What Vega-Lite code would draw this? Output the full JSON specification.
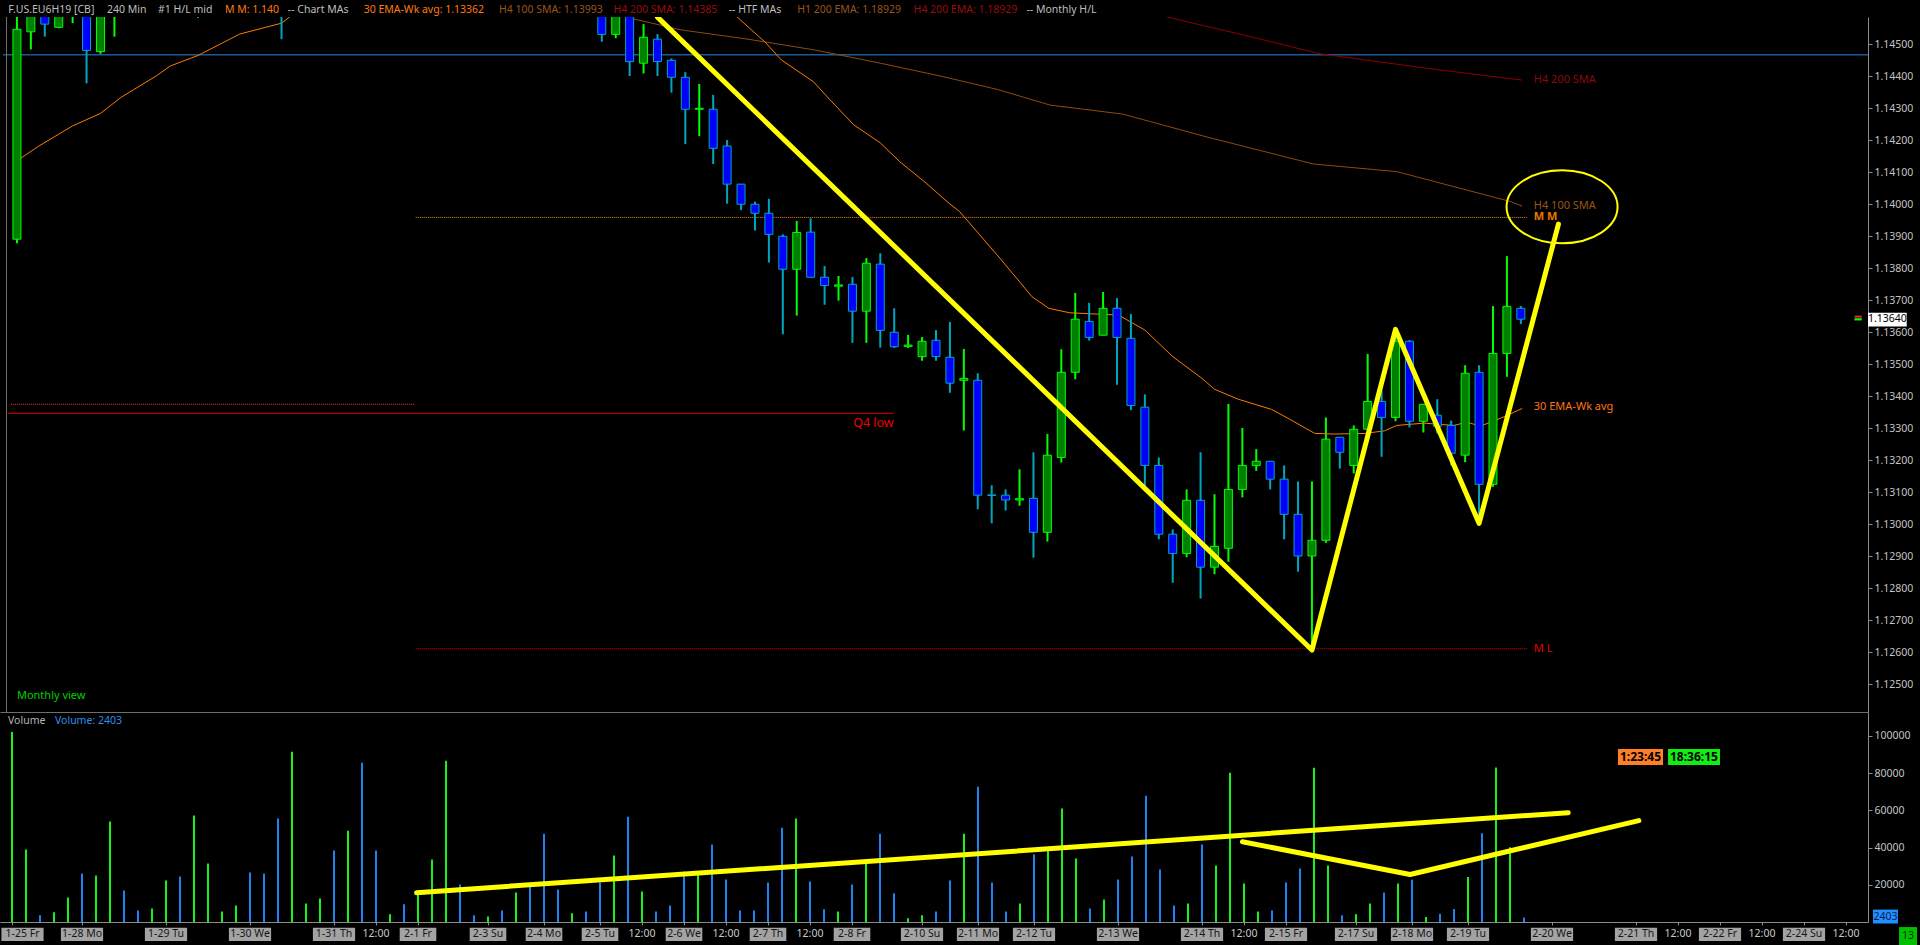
{
"$schema":"https://vega.github.io/schema/vega-lite/v6.json",
"background":"#000000",
"padding":0,
"spacing":0,
"bounds":"flush",
"config":{"view":{"stroke":null},"font":"Noto Sans","axis":{"labelFont":"Noto Sans","labelFontSize":10.5,"labelColor":"#C4C4C4","tickColor":"#8C8C8C","domainColor":"#8C8C8C","tickSize":4,"labelPadding":2,"grid":false}},
"resolve":{"scale":{"color":"independent","fill":"independent"}},
"datasets":{
"hdr":[{"t":"F.US.EU6H19 [CB]","i":-0.264,"k":"g"},{"t":"240 Min","i":6.786,"k":"g"},{"t":"#1 H/L mid","i":10.43,"k":"g"},{"t":"M M: 1.140","i":15.21,"k":"o"},{"t":"-- Chart MAs","i":19.7,"k":"g"},{"t":"30 EMA-Wk avg: 1.13362","i":25.12,"k":"o"},{"t":"H4 100 SMA: 1.13993","i":34.79,"k":"b"},{"t":"H4 200 SMA: 1.14385","i":42.97,"k":"r"},{"t":"-- HTF MAs","i":51.19,"k":"g"},{"t":"H1 200 EMA: 1.18929","i":56.09,"k":"b"},{"t":"H4 200 EMA: 1.18929","i":64.4,"k":"r"},{"t":"-- Monthly H/L","i":72.46,"k":"g"}],
"bars":[
{"i":0,"o":1.13891,"h":1.1462,"l":1.13878,"c":1.14547,"v":102200,"d":"up"},
{"i":1,"o":1.14539,"h":1.1465,"l":1.14484,"c":1.1461,"v":39000,"d":"up"},
{"i":2,"o":1.1464,"h":1.1466,"l":1.14524,"c":1.14563,"v":3600,"d":"down"},
{"i":3,"o":1.14553,"h":1.1465,"l":1.1455,"c":1.1462,"v":5200,"d":"up"},
{"i":4,"o":1.146,"h":1.1466,"l":1.14566,"c":1.1463,"v":13200,"d":"up"},
{"i":5,"o":1.1466,"h":1.1469,"l":1.14378,"c":1.14481,"v":26100,"d":"down"},
{"i":6,"o":1.14477,"h":1.147,"l":1.1447,"c":1.1465,"v":25000,"d":"up"},
{"i":7,"o":1.1462,"h":1.147,"l":1.14524,"c":1.1466,"v":54000,"d":"up"},
{"i":8,"o":1.1468,"h":1.1472,"l":1.146,"c":1.1463,"v":17000,"d":"down"},
{"i":9,"o":1.1464,"h":1.1469,"l":1.1461,"c":1.1462,"v":6250,"d":"down"},
{"i":10,"o":1.1462,"h":1.147,"l":1.146,"c":1.1468,"v":7300,"d":"up"},
{"i":11,"o":1.1468,"h":1.1478,"l":1.1466,"c":1.1476,"v":22300,"d":"up"},
{"i":12,"o":1.1476,"h":1.1479,"l":1.1468,"c":1.147,"v":24500,"d":"down"},
{"i":13,"o":1.147,"h":1.1487,"l":1.14583,"c":1.1485,"v":57200,"d":"up"},
{"i":14,"o":1.1485,"h":1.1496,"l":1.1482,"c":1.1493,"v":31450,"d":"up"},
{"i":15,"o":1.1493,"h":1.1497,"l":1.149,"c":1.1495,"v":5700,"d":"up"},
{"i":16,"o":1.1495,"h":1.1501,"l":1.1492,"c":1.1499,"v":8900,"d":"up"},
{"i":17,"o":1.1499,"h":1.1502,"l":1.1488,"c":1.149,"v":26600,"d":"down"},
{"i":18,"o":1.149,"h":1.1493,"l":1.1479,"c":1.1481,"v":26100,"d":"down"},
{"i":19,"o":1.1481,"h":1.1485,"l":1.14516,"c":1.1462,"v":55600,"d":"down"},
{"i":20,"o":1.1462,"h":1.1508,"l":1.146,"c":1.1504,"v":91500,"d":"up"},
{"i":21,"o":1.1504,"h":1.1511,"l":1.15,"c":1.1508,"v":10000,"d":"up"},
{"i":22,"o":1.1508,"h":1.1515,"l":1.1505,"c":1.1512,"v":12700,"d":"up"},
{"i":23,"o":1.1512,"h":1.1516,"l":1.15,"c":1.1503,"v":38400,"d":"down"},
{"i":24,"o":1.1503,"h":1.152,"l":1.1501,"c":1.1518,"v":49100,"d":"up"},
{"i":25,"o":1.1518,"h":1.1528,"l":1.149,"c":1.1496,"v":85600,"d":"down"},
{"i":26,"o":1.1496,"h":1.15,"l":1.1483,"c":1.1486,"v":38400,"d":"down"},
{"i":27,"o":1.1486,"h":1.149,"l":1.1484,"c":1.1488,"v":4100,"d":"up"},
{"i":28,"o":1.1488,"h":1.149,"l":1.1483,"c":1.1485,"v":9500,"d":"down"},
{"i":29,"o":1.1485,"h":1.1493,"l":1.1482,"c":1.1491,"v":16400,"d":"up"},
{"i":30,"o":1.1491,"h":1.1502,"l":1.1489,"c":1.15,"v":33600,"d":"up"},
{"i":31,"o":1.15,"h":1.153,"l":1.1496,"c":1.1525,"v":86700,"d":"up"},
{"i":32,"o":1.1525,"h":1.1527,"l":1.1515,"c":1.1517,"v":20200,"d":"down"},
{"i":33,"o":1.1517,"h":1.1519,"l":1.1514,"c":1.1515,"v":3600,"d":"down"},
{"i":34,"o":1.1515,"h":1.1518,"l":1.1513,"c":1.1517,"v":3000,"d":"up"},
{"i":35,"o":1.1517,"h":1.1519,"l":1.1513,"c":1.1514,"v":6250,"d":"down"},
{"i":36,"o":1.1514,"h":1.1522,"l":1.1511,"c":1.152,"v":15900,"d":"up"},
{"i":37,"o":1.152,"h":1.1523,"l":1.1508,"c":1.151,"v":20700,"d":"down"},
{"i":38,"o":1.151,"h":1.1512,"l":1.148,"c":1.1484,"v":47500,"d":"down"},
{"i":39,"o":1.1484,"h":1.1488,"l":1.147,"c":1.1473,"v":17500,"d":"down"},
{"i":40,"o":1.1473,"h":1.1478,"l":1.1471,"c":1.1476,"v":4650,"d":"up"},
{"i":41,"o":1.1476,"h":1.1479,"l":1.1466,"c":1.1469,"v":5700,"d":"down"},
{"i":42,"o":1.1469,"h":1.1472,"l":1.14508,"c":1.14531,"v":21300,"d":"down"},
{"i":43,"o":1.14531,"h":1.1465,"l":1.14519,"c":1.1462,"v":35700,"d":"up"},
{"i":44,"o":1.1462,"h":1.1464,"l":1.14401,"c":1.14446,"v":56600,"d":"down"},
{"i":45,"o":1.14441,"h":1.14563,"l":1.14409,"c":1.14522,"v":16400,"d":"up"},
{"i":46,"o":1.14516,"h":1.14532,"l":1.14401,"c":1.14446,"v":5700,"d":"down"},
{"i":47,"o":1.1445,"h":1.14456,"l":1.14349,"c":1.14397,"v":8900,"d":"down"},
{"i":48,"o":1.14397,"h":1.14413,"l":1.14188,"c":1.14297,"v":27200,"d":"down"},
{"i":49,"o":1.14297,"h":1.14376,"l":1.14213,"c":1.143,"v":26600,"d":"up"},
{"i":50,"o":1.14297,"h":1.14342,"l":1.14126,"c":1.14175,"v":41600,"d":"down"},
{"i":51,"o":1.14182,"h":1.14201,"l":1.14002,"c":1.14063,"v":22900,"d":"down"},
{"i":52,"o":1.14063,"h":1.14063,"l":1.13982,"c":1.14,"v":6250,"d":"down"},
{"i":53,"o":1.14,"h":1.14008,"l":1.13918,"c":1.13972,"v":6250,"d":"down"},
{"i":54,"o":1.13972,"h":1.14017,"l":1.13818,"c":1.13906,"v":21300,"d":"down"},
{"i":55,"o":1.139,"h":1.13906,"l":1.13594,"c":1.13797,"v":50700,"d":"down"},
{"i":56,"o":1.13797,"h":1.13948,"l":1.13652,"c":1.13912,"v":55600,"d":"up"},
{"i":57,"o":1.13913,"h":1.13956,"l":1.13772,"c":1.13772,"v":21800,"d":"down"},
{"i":58,"o":1.13772,"h":1.13807,"l":1.13686,"c":1.13746,"v":6800,"d":"down"},
{"i":59,"o":1.13744,"h":1.13776,"l":1.13699,"c":1.13748,"v":5700,"d":"up"},
{"i":60,"o":1.1375,"h":1.13773,"l":1.13567,"c":1.13666,"v":20200,"d":"down"},
{"i":61,"o":1.13666,"h":1.13832,"l":1.13567,"c":1.13816,"v":32500,"d":"up"},
{"i":62,"o":1.13813,"h":1.13847,"l":1.13552,"c":1.13606,"v":47500,"d":"down"},
{"i":63,"o":1.136,"h":1.13675,"l":1.13551,"c":1.13555,"v":15400,"d":"down"},
{"i":64,"o":1.13556,"h":1.13592,"l":1.13551,"c":1.1356,"v":2000,"d":"up"},
{"i":65,"o":1.13524,"h":1.13585,"l":1.13511,"c":1.13572,"v":3600,"d":"up"},
{"i":66,"o":1.13575,"h":1.13607,"l":1.13511,"c":1.13524,"v":5700,"d":"down"},
{"i":67,"o":1.13522,"h":1.13632,"l":1.13411,"c":1.13441,"v":22300,"d":"down"},
{"i":68,"o":1.1345,"h":1.13548,"l":1.13293,"c":1.13456,"v":47500,"d":"up"},
{"i":69,"o":1.1345,"h":1.13472,"l":1.13047,"c":1.13091,"v":72700,"d":"down"},
{"i":70,"o":1.13092,"h":1.13122,"l":1.13003,"c":1.1309,"v":21300,"d":"down"},
{"i":71,"o":1.13091,"h":1.13109,"l":1.13043,"c":1.13076,"v":5700,"d":"down"},
{"i":72,"o":1.13076,"h":1.13172,"l":1.13058,"c":1.1308,"v":10000,"d":"up"},
{"i":73,"o":1.13081,"h":1.13225,"l":1.12896,"c":1.12975,"v":36300,"d":"down"},
{"i":74,"o":1.12975,"h":1.13282,"l":1.12946,"c":1.13216,"v":40000,"d":"up"},
{"i":75,"o":1.13209,"h":1.13547,"l":1.13193,"c":1.13475,"v":61000,"d":"up"},
{"i":76,"o":1.13475,"h":1.13723,"l":1.13453,"c":1.13641,"v":34100,"d":"up"},
{"i":77,"o":1.13634,"h":1.13692,"l":1.13574,"c":1.13584,"v":7300,"d":"down"},
{"i":78,"o":1.13591,"h":1.13726,"l":1.13591,"c":1.13675,"v":12150,"d":"up"},
{"i":79,"o":1.13675,"h":1.13707,"l":1.13436,"c":1.13584,"v":22900,"d":"down"},
{"i":80,"o":1.13581,"h":1.13657,"l":1.13357,"c":1.13371,"v":35200,"d":"down"},
{"i":81,"o":1.13366,"h":1.13406,"l":1.13117,"c":1.13184,"v":67900,"d":"down"},
{"i":82,"o":1.13184,"h":1.13209,"l":1.12953,"c":1.12969,"v":28200,"d":"down"},
{"i":83,"o":1.12969,"h":1.12984,"l":1.12817,"c":1.12909,"v":8900,"d":"down"},
{"i":84,"o":1.12909,"h":1.13109,"l":1.12897,"c":1.13075,"v":10000,"d":"up"},
{"i":85,"o":1.13075,"h":1.13225,"l":1.12768,"c":1.12866,"v":41600,"d":"down"},
{"i":86,"o":1.12866,"h":1.13094,"l":1.12844,"c":1.12931,"v":30400,"d":"up"},
{"i":87,"o":1.12925,"h":1.13376,"l":1.12883,"c":1.13109,"v":80200,"d":"up"},
{"i":88,"o":1.13109,"h":1.13301,"l":1.13084,"c":1.13184,"v":20700,"d":"up"},
{"i":89,"o":1.13184,"h":1.13235,"l":1.13167,"c":1.13197,"v":5700,"d":"up"},
{"i":90,"o":1.13197,"h":1.13197,"l":1.13109,"c":1.13141,"v":6250,"d":"down"},
{"i":91,"o":1.13141,"h":1.13184,"l":1.12953,"c":1.13031,"v":21300,"d":"down"},
{"i":92,"o":1.13031,"h":1.13134,"l":1.12852,"c":1.12901,"v":28800,"d":"down"},
{"i":93,"o":1.12901,"h":1.13134,"l":1.12607,"c":1.1295,"v":82900,"d":"up"},
{"i":94,"o":1.1295,"h":1.13334,"l":1.12942,"c":1.13266,"v":30400,"d":"up"},
{"i":95,"o":1.13272,"h":1.13272,"l":1.13174,"c":1.13225,"v":3600,"d":"down"},
{"i":96,"o":1.13184,"h":1.13309,"l":1.13159,"c":1.13297,"v":4100,"d":"up"},
{"i":97,"o":1.13297,"h":1.13532,"l":1.13287,"c":1.13384,"v":10000,"d":"up"},
{"i":98,"o":1.13384,"h":1.13422,"l":1.13211,"c":1.13334,"v":15900,"d":"down"},
{"i":99,"o":1.13334,"h":1.13609,"l":1.13322,"c":1.13572,"v":20700,"d":"up"},
{"i":100,"o":1.13572,"h":1.13576,"l":1.13303,"c":1.13322,"v":22700,"d":"down"},
{"i":101,"o":1.13322,"h":1.13375,"l":1.13287,"c":1.13375,"v":2700,"d":"up"},
{"i":102,"o":1.13341,"h":1.13391,"l":1.13284,"c":1.13306,"v":4450,"d":"down"},
{"i":103,"o":1.13309,"h":1.13324,"l":1.13184,"c":1.13222,"v":7000,"d":"down"},
{"i":104,"o":1.13216,"h":1.13497,"l":1.13194,"c":1.13472,"v":24200,"d":"up"},
{"i":105,"o":1.13475,"h":1.13497,"l":1.13003,"c":1.13125,"v":47700,"d":"down"},
{"i":106,"o":1.13125,"h":1.13682,"l":1.13117,"c":1.13534,"v":83100,"d":"up"},
{"i":107,"o":1.13534,"h":1.13838,"l":1.13461,"c":1.13681,"v":40200,"d":"up"},
{"i":108,"o":1.13675,"h":1.13682,"l":1.13626,"c":1.13641,"v":2403,"d":"down"}
],
"ma":[
{"s":"ema","i":0,"p":1.14136},{"s":"ema","i":1.5,"p":1.1418},{"s":"ema","i":4,"p":1.14245},{"s":"ema","i":6,"p":1.14284},{"s":"ema","i":7.5,"p":1.14335},{"s":"ema","i":10,"p":1.14401},{"s":"ema","i":11,"p":1.14432},{"s":"ema","i":13,"p":1.14465},{"s":"ema","i":16,"p":1.14532},{"s":"ema","i":19,"p":1.14566},{"s":"ema","i":19.6,"p":1.14586},{"s":"ema","i":21,"p":1.1463},{"s":"ema","i":50,"p":1.1465},{"s":"ema","i":51.7,"p":1.14586},{"s":"ema","i":53.7,"p":1.14508},{"s":"ema","i":54.9,"p":1.14451},{"s":"ema","i":57.2,"p":1.14383},{"s":"ema","i":58.4,"p":1.14326},{"s":"ema","i":60.1,"p":1.14248},{"s":"ema","i":62,"p":1.14192},{"s":"ema","i":63.4,"p":1.14133},{"s":"ema","i":65.3,"p":1.14066},{"s":"ema","i":66.8,"p":1.14008},{"s":"ema","i":67.7,"p":1.13977},{"s":"ema","i":70.7,"p":1.13826},{"s":"ema","i":71.5,"p":1.13784},{"s":"ema","i":72.9,"p":1.13711},{"s":"ema","i":74.1,"p":1.13675},{"s":"ema","i":75.6,"p":1.13661},{"s":"ema","i":77.5,"p":1.13657},{"s":"ema","i":79.1,"p":1.13654},{"s":"ema","i":81,"p":1.13607},{"s":"ema","i":83,"p":1.13524},{"s":"ema","i":85.1,"p":1.13456},{"s":"ema","i":86,"p":1.13422},{"s":"ema","i":87.7,"p":1.13391},{"s":"ema","i":90.1,"p":1.13359},{"s":"ema","i":91.5,"p":1.13326},{"s":"ema","i":93.2,"p":1.13284},{"s":"ema","i":94.6,"p":1.13282},{"s":"ema","i":96.8,"p":1.13284},{"s":"ema","i":98.2,"p":1.13292},{"s":"ema","i":99.1,"p":1.13309},{"s":"ema","i":101.05,"p":1.13316},{"s":"ema","i":103.2,"p":1.13309},{"s":"ema","i":104.1,"p":1.13319},{"s":"ema","i":105.1,"p":1.13307},{"s":"ema","i":106.8,"p":1.13336},{"s":"ema","i":108.1,"p":1.13362},
{"s":"sma100","i":42,"p":1.1461},{"s":"sma100","i":44.1,"p":1.14581},{"s":"sma100","i":47.7,"p":1.14545},{"s":"sma100","i":52.5,"p":1.14516},{"s":"sma100","i":57.2,"p":1.14483},{"s":"sma100","i":62,"p":1.14441},{"s":"sma100","i":66.3,"p":1.14401},{"s":"sma100","i":70.4,"p":1.14359},{"s":"sma100","i":74.2,"p":1.1431},{"s":"sma100","i":79.4,"p":1.14282},{"s":"sma100","i":85.4,"p":1.14211},{"s":"sma100","i":93.1,"p":1.14126},{"s":"sma100","i":99.1,"p":1.14102},{"s":"sma100","i":100.5,"p":1.14086},{"s":"sma100","i":107.3,"p":1.14008},{"s":"sma100","i":108.1,"p":1.13994},
{"s":"sma200","i":81,"p":1.1461},{"s":"sma200","i":82.7,"p":1.14584},{"s":"sma200","i":88.1,"p":1.14529},{"s":"sma200","i":93.6,"p":1.1447},{"s":"sma200","i":101.8,"p":1.14422},{"s":"sma200","i":108.1,"p":1.14388}
],
"levels":[{"n":"blue","x1":-1,"x2":134,"p":1.14467},{"n":"jan","x1":-0.43,"x2":28.54,"p":1.13375},{"n":"q4","x1":-0.64,"x2":62.96,"p":1.13347},{"n":"mm","x1":28.64,"x2":108.43,"p":1.13959},{"n":"ml","x1":28.64,"x2":108.43,"p":1.12611}],
"ptrend":[{"i":46,"p":1.14585},{"i":93,"p":1.12607},{"i":99,"p":1.13609},{"i":105,"p":1.13003},{"i":110.7,"p":1.13938}],
"ell":[{"i":110.96,"p":1.13992}],
"plabels":[{"t":"H4 200 SMA","i":108.93,"p":1.14389},{"t":"H4 100 SMA","i":108.93,"p":1.13996},{"t":"30 EMA-Wk avg","i":108.93,"p":1.13365},{"t":"M L","i":108.93,"p":1.12611},{"t":"Monthly view","i":0,"p":1.12463}],
"mmlabel":[{"t":"M M","i":108.93,"p":1.13959}],
"q4label":[{"t":"Q4 low","i":62.96,"p":1.13318}],
"pbox":[{"x1":132.93,"x2":135.71,"p1":1.13661,"p2":1.13618,"t":"1.13640","xm":134.32,"pm":1.1364}],
"pticks":[{"k":"r","x1":131.96,"x2":132.48,"p1":1.13652,"p2":1.13646},{"k":"g","x1":131.96,"x2":132.48,"p1":1.13644,"p2":1.13637}],
"vtrend":[{"seg":"a","i":28.9,"v":15750},{"seg":"a","i":111.16,"v":58800},{"seg":"b","i":87.89,"v":43170},{"seg":"b","i":99.86,"v":25540},{"seg":"b","i":116.2,"v":54500}],
"vtext":[{"t":"Volume","i":-0.286,"v":108060},{"t":"Volume: 2403","i":3.07,"v":108060}],
"timer":[{"k":"o","x1":114.71,"x2":117.93,"v1":84410,"v2":93010,"t":"1:23:45","xm":116.32,"vm":88710},{"k":"g","x1":118.29,"x2":122.0,"v1":84410,"v2":93010,"t":"18:36:15","xm":120.14,"vm":88710},{"k":"b","x1":132.93,"x2":134.71,"v1":-800,"v2":6670,"t":"2403","xm":133.82,"vm":2935}],
"tl":[{"t":"1-25 Fr","i":0.75,"k":"day"},{"t":"1-28 Mo","i":5,"k":"day"},{"t":"1-29 Tu","i":11,"k":"day"},{"t":"1-30 We","i":17,"k":"day"},{"t":"1-31 Th","i":23,"k":"day"},{"t":"12:00","i":26,"k":"time"},{"t":"2-1 Fr","i":29,"k":"day"},{"t":"2-3 Su","i":34,"k":"day"},{"t":"2-4 Mo","i":38,"k":"day"},{"t":"2-5 Tu","i":42,"k":"day"},{"t":"12:00","i":45,"k":"time"},{"t":"2-6 We","i":48,"k":"day"},{"t":"12:00","i":51,"k":"time"},{"t":"2-7 Th","i":54,"k":"day"},{"t":"12:00","i":57,"k":"time"},{"t":"2-8 Fr","i":60,"k":"day"},{"t":"2-10 Su","i":65,"k":"day"},{"t":"2-11 Mo","i":69,"k":"day"},{"t":"2-12 Tu","i":73,"k":"day"},{"t":"2-13 We","i":79,"k":"day"},{"t":"2-14 Th","i":85,"k":"day"},{"t":"12:00","i":88,"k":"time"},{"t":"2-15 Fr","i":91,"k":"day"},{"t":"2-17 Su","i":96,"k":"day"},{"t":"2-18 Mo","i":100,"k":"day"},{"t":"2-19 Tu","i":104,"k":"day"},{"t":"2-20 We","i":110,"k":"day"},{"t":"2-21 Th","i":116,"k":"day"},{"t":"12:00","i":119,"k":"time"},{"t":"2-22 Fr","i":122,"k":"day"},{"t":"12:00","i":125,"k":"time"},{"t":"2-24 Su","i":128,"k":"day"},{"t":"12:00","i":131,"k":"time"}],
"corner":[{"t":"13","x1":134.79,"x2":136.07,"xm":135.43}]
},
"vconcat":[
{"width":1920,"height":17,
 "data":{"name":"hdr"},
 "mark":{"type":"text","align":"left","baseline":"middle","fontSize":10.5,"font":"Noto Sans"},
 "encoding":{
  "x":{"field":"i","type":"quantitative","scale":{"domain":[-0.857143,136.285714],"nice":false,"zero":false},"axis":null},
  "y":{"datum":0.41,"type":"quantitative","scale":{"domain":[0,1],"nice":false,"zero":false},"axis":null},
  "text":{"field":"t"},
  "color":{"field":"k","type":"nominal","scale":{"domain":["g","o","b","r"],"range":["#BEBEBE","#FF7A10","#9A5418","#990C0C"]},"legend":null}
 }
},
{"width":1868,"height":695,
 "encoding":{
  "x":{"field":"i","type":"quantitative","scale":{"domain":[-0.857143,132.571429],"nice":false,"zero":false},"axis":{"orient":"bottom","labels":false,"ticks":false,"domain":true,"domainColor":"#6E6E6E","title":null,"grid":false}},
  "y":{"field":"p","type":"quantitative","scale":{"domain":[1.124134,1.145853],"nice":false,"zero":false},"axis":{"orient":"right","values":[1.125,1.126,1.127,1.128,1.129,1.13,1.131,1.132,1.133,1.134,1.135,1.136,1.137,1.138,1.139,1.14,1.141,1.142,1.143,1.144,1.145],"format":".5f","title":null,"grid":false}}
 },
 "layer":[
  {"data":{"name":"bars"},"transform":[{"filter":"datum.d==='up'"}],
   "mark":{"type":"rule","color":"#00FF00","strokeWidth":2,"clip":true},
   "encoding":{"y":{"field":"l","type":"quantitative","scale":{"domain":[1.124134,1.145853],"nice":false,"zero":false},"axis":{"orient":"right","values":[1.125,1.126,1.127,1.128,1.129,1.13,1.131,1.132,1.133,1.134,1.135,1.136,1.137,1.138,1.139,1.14,1.141,1.142,1.143,1.144,1.145],"format":".5f","title":null,"grid":false}},"y2":{"field":"h"}}},
  {"data":{"name":"levels"},"transform":[{"filter":"datum.n==='blue'"}],
   "mark":{"type":"rule","color":"#2B87E0","strokeWidth":1,"clip":true},
   "encoding":{"x":{"field":"x1","type":"quantitative","scale":{"domain":[-0.857143,132.571429],"nice":false,"zero":false},"axis":{"orient":"bottom","labels":false,"ticks":false,"domain":true,"domainColor":"#6E6E6E","title":null,"grid":false}},"x2":{"field":"x2"}}},
  {"data":{"name":"levels"},"transform":[{"filter":"datum.n==='jan'"}],
   "mark":{"type":"rule","color":"#FF2B2B","strokeWidth":1,"strokeDash":[1,1],"clip":true},
   "encoding":{"x":{"field":"x1","type":"quantitative","scale":{"domain":[-0.857143,132.571429],"nice":false,"zero":false},"axis":{"orient":"bottom","labels":false,"ticks":false,"domain":true,"domainColor":"#6E6E6E","title":null,"grid":false}},"x2":{"field":"x2"}}},
  {"data":{"name":"levels"},"transform":[{"filter":"datum.n==='q4'"}],
   "mark":{"type":"rule","color":"#E00000","strokeWidth":1,"clip":true},
   "encoding":{"x":{"field":"x1","type":"quantitative","scale":{"domain":[-0.857143,132.571429],"nice":false,"zero":false},"axis":{"orient":"bottom","labels":false,"ticks":false,"domain":true,"domainColor":"#6E6E6E","title":null,"grid":false}},"x2":{"field":"x2"}}},
  {"data":{"name":"levels"},"transform":[{"filter":"datum.n==='mm'"}],
   "mark":{"type":"rule","color":"#FF8C00","strokeWidth":1,"strokeDash":[1,1],"clip":true},
   "encoding":{"x":{"field":"x1","type":"quantitative","scale":{"domain":[-0.857143,132.571429],"nice":false,"zero":false},"axis":{"orient":"bottom","labels":false,"ticks":false,"domain":true,"domainColor":"#6E6E6E","title":null,"grid":false}},"x2":{"field":"x2"}}},
  {"data":{"name":"levels"},"transform":[{"filter":"datum.n==='ml'"}],
   "mark":{"type":"rule","color":"#FF0000","strokeWidth":1,"strokeDash":[1,1],"clip":true},
   "encoding":{"x":{"field":"x1","type":"quantitative","scale":{"domain":[-0.857143,132.571429],"nice":false,"zero":false},"axis":{"orient":"bottom","labels":false,"ticks":false,"domain":true,"domainColor":"#6E6E6E","title":null,"grid":false}},"x2":{"field":"x2"}}},
  {"data":{"name":"ell"},
   "mark":{"type":"rule","color":"#6E6E6E","strokeWidth":1,"clip":true},
   "encoding":{"x":{"datum":-0.75,"type":"quantitative","scale":{"domain":[-0.857143,132.571429],"nice":false,"zero":false},"axis":{"orient":"bottom","labels":false,"ticks":false,"domain":true,"domainColor":"#6E6E6E","title":null,"grid":false}},
    "y":{"datum":1.124134,"type":"quantitative","scale":{"domain":[1.124134,1.145853],"nice":false,"zero":false},"axis":{"orient":"right","values":[1.125,1.126,1.127,1.128,1.129,1.13,1.131,1.132,1.133,1.134,1.135,1.136,1.137,1.138,1.139,1.14,1.141,1.142,1.143,1.144,1.145],"format":".5f","title":null,"grid":false}},"y2":{"datum":1.145853}}},
  {"data":{"name":"ma"},"transform":[{"filter":"datum.s==='sma200'"}],
   "mark":{"type":"line","color":"#8B0000","strokeWidth":1,"clip":true}},
  {"data":{"name":"ma"},"transform":[{"filter":"datum.s==='sma100'"}],
   "mark":{"type":"line","color":"#8E4B10","strokeWidth":1,"clip":true}},
  {"data":{"name":"ma"},"transform":[{"filter":"datum.s==='ema'"}],
   "mark":{"type":"line","color":"#FF7A00","strokeWidth":1,"clip":true}},
  {"data":{"name":"bars"},"transform":[{"filter":"datum.d==='down'"}],
   "mark":{"type":"rule","color":"#00A5C0","strokeWidth":2,"clip":true},
   "encoding":{"y":{"field":"l","type":"quantitative","scale":{"domain":[1.124134,1.145853],"nice":false,"zero":false},"axis":{"orient":"right","values":[1.125,1.126,1.127,1.128,1.129,1.13,1.131,1.132,1.133,1.134,1.135,1.136,1.137,1.138,1.139,1.14,1.141,1.142,1.143,1.144,1.145],"format":".5f","title":null,"grid":false}},"y2":{"field":"h"}}},
  {"data":{"name":"bars"},"transform":[{"filter":"datum.d==='up'"}],
   "mark":{"type":"bar","width":8,"fill":"#008000","stroke":"#00FF00","strokeWidth":1,"clip":true},
   "encoding":{"y":{"field":"o","type":"quantitative","scale":{"domain":[1.124134,1.145853],"nice":false,"zero":false},"axis":{"orient":"right","values":[1.125,1.126,1.127,1.128,1.129,1.13,1.131,1.132,1.133,1.134,1.135,1.136,1.137,1.138,1.139,1.14,1.141,1.142,1.143,1.144,1.145],"format":".5f","title":null,"grid":false}},"y2":{"field":"c"}}},
  {"data":{"name":"bars"},"transform":[{"filter":"datum.d==='down'"}],
   "mark":{"type":"bar","width":8,"fill":"#0000FF","stroke":"#00A5C0","strokeWidth":1,"clip":true},
   "encoding":{"y":{"field":"o","type":"quantitative","scale":{"domain":[1.124134,1.145853],"nice":false,"zero":false},"axis":{"orient":"right","values":[1.125,1.126,1.127,1.128,1.129,1.13,1.131,1.132,1.133,1.134,1.135,1.136,1.137,1.138,1.139,1.14,1.141,1.142,1.143,1.144,1.145],"format":".5f","title":null,"grid":false}},"y2":{"field":"c"}}},
  {"data":{"name":"ptrend"},
   "mark":{"type":"line","color":"#FFFF00","strokeWidth":5,"strokeJoin":"round","strokeCap":"round","clip":true}},
  {"data":{"name":"ell"},
   "mark":{"type":"point","shape":"M 1 0 C 1 0.3634 0.5523 0.658 0 0.658 C -0.5523 0.658 -1 0.3634 -1 0 C -1 -0.3634 -0.5523 -0.658 0 -0.658 C 0.5523 -0.658 1 -0.3634 1 0 Z","size":12321,"filled":false,"stroke":"#FFFF00","strokeWidth":2,"opacity":1,"strokeOpacity":1}},
  {"data":{"name":"plabels"},
   "mark":{"type":"text","align":"left","baseline":"middle","fontSize":11,"font":"Noto Sans"},
   "encoding":{"text":{"field":"t"},
    "color":{"field":"t","type":"nominal","scale":{"domain":["H4 200 SMA","H4 100 SMA","30 EMA-Wk avg","M L","Monthly view"],"range":["#8B0A0A","#9A5418","#FF7410","#E00000","#00D000"]},"legend":null}}},
  {"data":{"name":"mmlabel"},
   "mark":{"type":"text","align":"left","baseline":"middle","fontSize":11,"fontWeight":"bold","font":"Noto Sans","color":"#E87800"},
   "encoding":{"text":{"field":"t"}}},
  {"data":{"name":"q4label"},
   "mark":{"type":"text","align":"right","baseline":"middle","fontSize":12.5,"font":"Noto Sans","color":"#F00000"},
   "encoding":{"text":{"field":"t"}}},
  {"data":{"name":"pbox"},
   "mark":{"type":"rect","fill":"#FFFFFF","clip":false},
   "encoding":{"x":{"field":"x1","type":"quantitative","scale":{"domain":[-0.857143,132.571429],"nice":false,"zero":false},"axis":{"orient":"bottom","labels":false,"ticks":false,"domain":true,"domainColor":"#6E6E6E","title":null,"grid":false}},"x2":{"field":"x2"},"y":{"field":"p1","type":"quantitative","scale":{"domain":[1.124134,1.145853],"nice":false,"zero":false},"axis":{"orient":"right","values":[1.125,1.126,1.127,1.128,1.129,1.13,1.131,1.132,1.133,1.134,1.135,1.136,1.137,1.138,1.139,1.14,1.141,1.142,1.143,1.144,1.145],"format":".5f","title":null,"grid":false}},"y2":{"field":"p2"}}},
  {"data":{"name":"pbox"},
   "mark":{"type":"text","align":"center","baseline":"middle","fontSize":10.5,"font":"Noto Sans","color":"#000000","clip":false},
   "encoding":{"x":{"field":"xm","type":"quantitative","scale":{"domain":[-0.857143,132.571429],"nice":false,"zero":false},"axis":{"orient":"bottom","labels":false,"ticks":false,"domain":true,"domainColor":"#6E6E6E","title":null,"grid":false}},"y":{"field":"pm","type":"quantitative","scale":{"domain":[1.124134,1.145853],"nice":false,"zero":false},"axis":{"orient":"right","values":[1.125,1.126,1.127,1.128,1.129,1.13,1.131,1.132,1.133,1.134,1.135,1.136,1.137,1.138,1.139,1.14,1.141,1.142,1.143,1.144,1.145],"format":".5f","title":null,"grid":false}},"text":{"field":"t"}}},
  {"data":{"name":"pticks"},"transform":[{"filter":"datum.k==='r'"}],
   "mark":{"type":"rect","fill":"#FF2020"},
   "encoding":{"x":{"field":"x1","type":"quantitative","scale":{"domain":[-0.857143,132.571429],"nice":false,"zero":false},"axis":{"orient":"bottom","labels":false,"ticks":false,"domain":true,"domainColor":"#6E6E6E","title":null,"grid":false}},"x2":{"field":"x2"},"y":{"field":"p1","type":"quantitative","scale":{"domain":[1.124134,1.145853],"nice":false,"zero":false},"axis":{"orient":"right","values":[1.125,1.126,1.127,1.128,1.129,1.13,1.131,1.132,1.133,1.134,1.135,1.136,1.137,1.138,1.139,1.14,1.141,1.142,1.143,1.144,1.145],"format":".5f","title":null,"grid":false}},"y2":{"field":"p2"}}},
  {"data":{"name":"pticks"},"transform":[{"filter":"datum.k==='g'"}],
   "mark":{"type":"rect","fill":"#00FF00"},
   "encoding":{"x":{"field":"x1","type":"quantitative","scale":{"domain":[-0.857143,132.571429],"nice":false,"zero":false},"axis":{"orient":"bottom","labels":false,"ticks":false,"domain":true,"domainColor":"#6E6E6E","title":null,"grid":false}},"x2":{"field":"x2"},"y":{"field":"p1","type":"quantitative","scale":{"domain":[1.124134,1.145853],"nice":false,"zero":false},"axis":{"orient":"right","values":[1.125,1.126,1.127,1.128,1.129,1.13,1.131,1.132,1.133,1.134,1.135,1.136,1.137,1.138,1.139,1.14,1.141,1.142,1.143,1.144,1.145],"format":".5f","title":null,"grid":false}},"y2":{"field":"p2"}}}
 ]
},
{"width":1868,"height":210,
 "encoding":{
  "x":{"field":"i","type":"quantitative","scale":{"domain":[-0.857143,132.571429],"nice":false,"zero":false},"axis":{"orient":"bottom","values":[0,5,11,17,23,26,29,34,38,42,45,48,51,54,57,60,65,69,73,79,85,88,91,96,100,104,110,116,119,122,125,128,131],"labels":false,"ticks":true,"tickSize":3,"domain":true,"title":null,"grid":false}},
  "y":{"field":"v","type":"quantitative","scale":{"domain":[0,112903],"nice":false,"zero":false},"axis":{"orient":"right","values":[20000,40000,60000,80000,100000],"format":"d","title":null,"grid":false}}
 },
 "layer":[
  {"data":{"name":"ell"},
   "mark":{"type":"rule","color":"#6E6E6E","strokeWidth":1,"clip":true},
   "encoding":{"x":{"datum":-0.75,"type":"quantitative","scale":{"domain":[-0.857143,132.571429],"nice":false,"zero":false},"axis":{"orient":"bottom","values":[0,5,11,17,23,26,29,34,38,42,45,48,51,54,57,60,65,69,73,79,85,88,91,96,100,104,110,116,119,122,125,128,131],"labels":false,"ticks":true,"tickSize":3,"domain":true,"title":null,"grid":false}},
    "y":{"datum":0,"type":"quantitative","scale":{"domain":[0,112903],"nice":false,"zero":false},"axis":{"orient":"right","values":[20000,40000,60000,80000,100000],"format":"d","title":null,"grid":false}},"y2":{"datum":112903}}},
  {"data":{"name":"bars"},"transform":[{"filter":"datum.d==='up'"}],
   "mark":{"type":"rule","color":"#1AF01A","strokeWidth":2},
   "encoding":{"y2":{"datum":0}}},
  {"data":{"name":"bars"},"transform":[{"filter":"datum.d==='down'"}],
   "mark":{"type":"rule","color":"#1C84F0","strokeWidth":2},
   "encoding":{"y2":{"datum":0}}},
  {"data":{"name":"vtrend"},
   "mark":{"type":"line","color":"#FFFF00","strokeWidth":5,"strokeJoin":"round","strokeCap":"round","clip":true},
   "encoding":{"detail":{"field":"seg"}}},
  {"data":{"name":"vtext"},"transform":[{"filter":"datum.t==='Volume'"}],
   "mark":{"type":"text","align":"left","baseline":"middle","fontSize":10.5,"font":"Noto Sans","color":"#B4B4B4"},
   "encoding":{"text":{"field":"t"}}},
  {"data":{"name":"vtext"},"transform":[{"filter":"datum.t!=='Volume'"}],
   "mark":{"type":"text","align":"left","baseline":"middle","fontSize":10.5,"font":"Noto Sans","color":"#2E8FE6"},
   "encoding":{"text":{"field":"t"}}},
  {"data":{"name":"timer"},
   "mark":{"type":"rect","clip":false},
   "encoding":{"x":{"field":"x1","type":"quantitative","scale":{"domain":[-0.857143,132.571429],"nice":false,"zero":false},"axis":{"orient":"bottom","values":[0,5,11,17,23,26,29,34,38,42,45,48,51,54,57,60,65,69,73,79,85,88,91,96,100,104,110,116,119,122,125,128,131],"labels":false,"ticks":true,"tickSize":3,"domain":true,"title":null,"grid":false}},"x2":{"field":"x2"},
    "y":{"field":"v1","type":"quantitative","scale":{"domain":[0,112903],"nice":false,"zero":false},"axis":{"orient":"right","values":[20000,40000,60000,80000,100000],"format":"d","title":null,"grid":false}},"y2":{"field":"v2"},
    "fill":{"field":"k","type":"nominal","scale":{"domain":["o","g","b"],"range":["#FF7F27","#11EE11","#1E90FF"]},"legend":null}}},
  {"data":{"name":"timer"},"transform":[{"filter":"datum.k!=='b'"}],
   "mark":{"type":"text","align":"center","baseline":"middle","fontSize":12,"fontWeight":"bold","font":"Noto Sans","color":"#000000"},
   "encoding":{"x":{"field":"xm","type":"quantitative","scale":{"domain":[-0.857143,132.571429],"nice":false,"zero":false},"axis":{"orient":"bottom","values":[0,5,11,17,23,26,29,34,38,42,45,48,51,54,57,60,65,69,73,79,85,88,91,96,100,104,110,116,119,122,125,128,131],"labels":false,"ticks":true,"tickSize":3,"domain":true,"title":null,"grid":false}},"y":{"field":"vm","type":"quantitative","scale":{"domain":[0,112903],"nice":false,"zero":false},"axis":{"orient":"right","values":[20000,40000,60000,80000,100000],"format":"d","title":null,"grid":false}},"text":{"field":"t"}}},
  {"data":{"name":"timer"},"transform":[{"filter":"datum.k==='b'"}],
   "mark":{"type":"text","align":"center","baseline":"middle","fontSize":10.5,"font":"Noto Sans","color":"#0A1A50","clip":false},
   "encoding":{"x":{"field":"xm","type":"quantitative","scale":{"domain":[-0.857143,132.571429],"nice":false,"zero":false},"axis":{"orient":"bottom","values":[0,5,11,17,23,26,29,34,38,42,45,48,51,54,57,60,65,69,73,79,85,88,91,96,100,104,110,116,119,122,125,128,131],"labels":false,"ticks":true,"tickSize":3,"domain":true,"title":null,"grid":false}},"y":{"field":"vm","type":"quantitative","scale":{"domain":[0,112903],"nice":false,"zero":false},"axis":{"orient":"right","values":[20000,40000,60000,80000,100000],"format":"d","title":null,"grid":false}},"text":{"field":"t"}}}
 ]
},
{"width":1920,"height":23,
 "layer":[
  {"data":{"name":"tl"},"transform":[{"filter":"datum.k==='day'"},{"calculate":"datum.i-(length(datum.t)*2.8+1.5)/14","as":"xa"},{"calculate":"datum.i+(length(datum.t)*2.8+1.5)/14","as":"xb"}],
   "mark":{"type":"rect","fill":"#A3A3A3","clip":true},
   "encoding":{"x":{"field":"xa","type":"quantitative","scale":{"domain":[-0.857143,136.285714],"nice":false,"zero":false},"axis":null},"x2":{"field":"xb"},
    "y":{"datum":0.752,"type":"quantitative","scale":{"domain":[0,1],"nice":false,"zero":false},"axis":null},"y2":{"datum":0.174}}},
  {"data":{"name":"tl"},
   "mark":{"type":"text","align":"center","baseline":"middle","fontSize":10.5,"font":"Noto Sans","clip":true},
   "encoding":{"x":{"field":"i","type":"quantitative","scale":{"domain":[-0.857143,136.285714],"nice":false,"zero":false},"axis":null},
    "y":{"datum":0.457,"type":"quantitative","scale":{"domain":[0,1],"nice":false,"zero":false},"axis":null},"text":{"field":"t"},
    "color":{"field":"k","type":"nominal","scale":{"domain":["day","time"],"range":["#161616","#C8C8C8"]},"legend":null}}},
  {"data":{"name":"corner"},
   "mark":{"type":"rect","fill":"#00C000","clip":true},
   "encoding":{"x":{"field":"x1","type":"quantitative","scale":{"domain":[-0.857143,136.285714],"nice":false,"zero":false},"axis":null},"x2":{"field":"x2"},
    "y":{"datum":0.78,"type":"quantitative","scale":{"domain":[0,1],"nice":false,"zero":false},"axis":null},"y2":{"datum":0}}},
  {"data":{"name":"corner"},
   "mark":{"type":"text","align":"center","baseline":"middle","fontSize":10.5,"font":"Noto Sans","color":"#003000","clip":true},
   "encoding":{"x":{"field":"xm","type":"quantitative","scale":{"domain":[-0.857143,136.285714],"nice":false,"zero":false},"axis":null},
    "y":{"datum":0.39,"type":"quantitative","scale":{"domain":[0,1],"nice":false,"zero":false},"axis":null},"text":{"field":"t"}}}
 ]
}
]
}
